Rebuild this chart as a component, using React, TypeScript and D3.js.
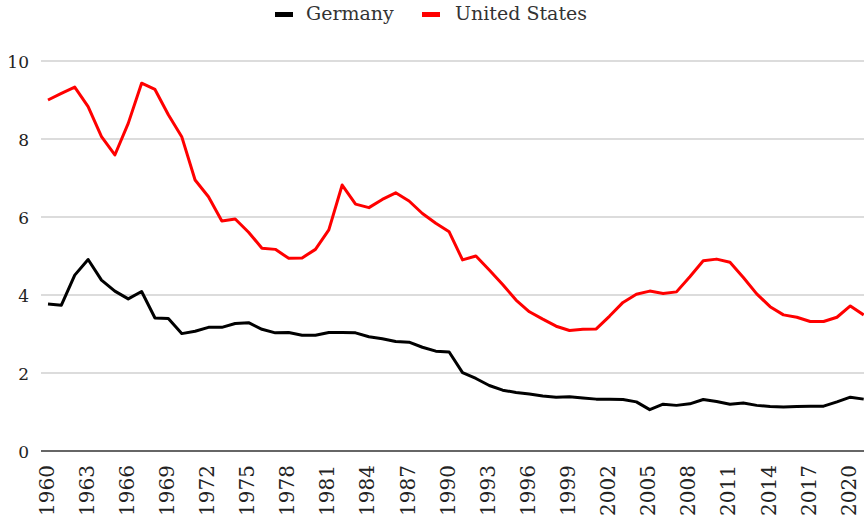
import React from "react";
import * as d3 from "d3";

const years: number[] = d3.range(1960, 2022);
const germany: number[] = [
  3.77, 3.74, 4.51, 4.91, 4.38, 4.1, 3.9, 4.09, 3.41, 3.4,
  3.01, 3.07, 3.17, 3.17, 3.27, 3.29, 3.12, 3.03, 3.04, 2.97,
  2.97, 3.04, 3.04, 3.03, 2.93, 2.88, 2.81, 2.79, 2.66, 2.56,
  2.54, 2.01, 1.86, 1.68, 1.56, 1.5, 1.46, 1.41, 1.38, 1.39,
  1.36, 1.33, 1.33, 1.32, 1.26, 1.06, 1.2, 1.17, 1.21, 1.32,
  1.27, 1.2, 1.23, 1.17, 1.14, 1.13, 1.14, 1.15, 1.15, 1.26,
  1.38, 1.33,
];
const unitedStates: number[] = [
  9.0, 9.17, 9.33, 8.83, 8.06, 7.59, 8.4, 9.43, 9.27, 8.62,
  8.06, 6.95, 6.52, 5.9, 5.95, 5.61, 5.2, 5.17, 4.94, 4.95,
  5.17, 5.67, 6.82, 6.33, 6.24, 6.45, 6.62, 6.41, 6.09, 5.84,
  5.62, 4.9, 5.0, 4.64, 4.27, 3.87, 3.57, 3.38, 3.2, 3.09,
  3.12, 3.13, 3.46, 3.81, 4.02, 4.1, 4.04, 4.08, 4.47, 4.88,
  4.92, 4.84, 4.45, 4.03, 3.7, 3.49, 3.43, 3.32, 3.32, 3.43,
  3.72, 3.49,
];
const yTicks: number[] = [0, 2, 4, 6, 8, 10];
const xTickYears: number[] = years.filter((y) => (y - 1960) % 3 === 0);
const seriesNames: string[] = ["Germany", "United States"];
const seriesColors: string[] = ["#000000", "#ff0000"];

const W = 864;
const H = 524;
const FONT = "'DejaVu Serif', serif";

export default function App() {
  const x = d3.scalePoint<number>().domain(years).range([48, 863.7]);
  const y = d3.scaleLinear().domain([0, 10]).range([451, 61]);
  const gridLeft = 41;

  const line = d3
    .line<number>()
    .x((_, i) => x(years[i]) as number)
    .y((d) => y(d));

  const series = [germany, unitedStates];

  return (
    <svg
      width={W}
      height={H}
      style={{ position: "absolute", left: 0, top: 0, background: "#fff" }}
    >
      {yTicks.map((t) => (
        <line
          key={t}
          x1={gridLeft}
          x2={W}
          y1={y(t)}
          y2={y(t)}
          stroke={t === 0 ? "#333" : "#d0d0d0"}
          strokeWidth={1.5}
        />
      ))}
      {yTicks.map((t) => (
        <text
          key={"yl" + t}
          x={29}
          y={y(t) + 2}
          textAnchor="end"
          dominantBaseline="middle"
          fontFamily={FONT}
          fontSize={17}
          fill="#222"
        >
          {t}
        </text>
      ))}
      {xTickYears.map((yr) => (
        <text
          key={"xl" + yr}
          transform={`translate(${x(yr)},${465}) rotate(-90)`}
          textAnchor="end"
          dominantBaseline="middle"
          fontFamily={FONT}
          fontSize={20}
          fill="#222"
        >
          {yr}
        </text>
      ))}
      {series.map((s, i) => (
        <path
          key={seriesNames[i]}
          d={line(s) || ""}
          fill="none"
          stroke={seriesColors[i]}
          strokeWidth={3}
          strokeLinejoin="round"
        />
      ))}
      <g>
        <rect x={275} y={12} width={18} height={5} fill={seriesColors[0]} />
        <text
          x={306}
          y={15}
          dominantBaseline="middle"
          fontFamily={FONT}
          fontSize={19}
          fill="#333"
        >
          {seriesNames[0]}
        </text>
        <rect x={422} y={12} width={18} height={5} fill={seriesColors[1]} />
        <text
          x={455}
          y={15}
          dominantBaseline="middle"
          fontFamily={FONT}
          fontSize={19}
          fill="#333"
        >
          {seriesNames[1]}
        </text>
      </g>
    </svg>
  );
}
